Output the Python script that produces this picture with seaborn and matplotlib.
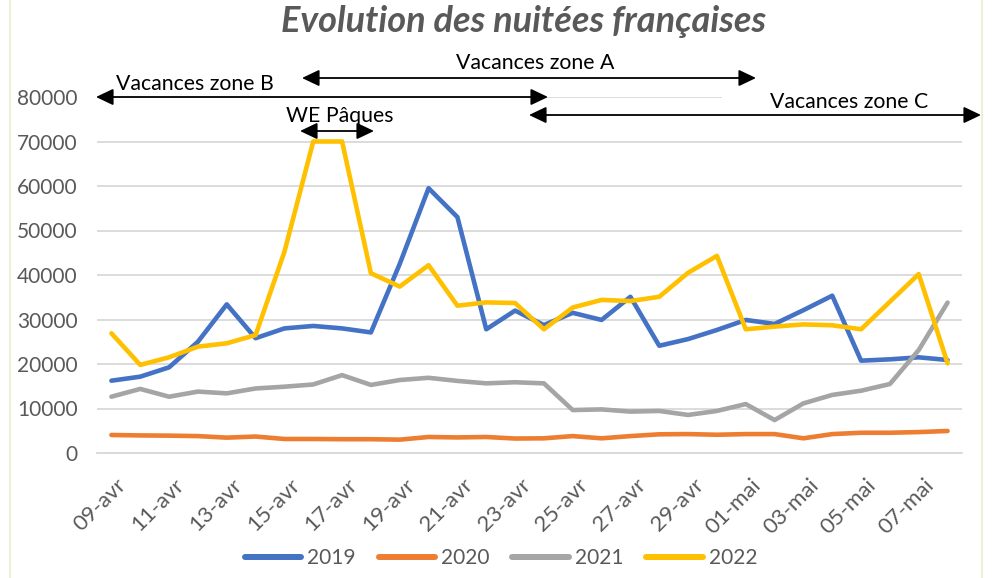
import numpy as np
import pandas as pd
import matplotlib
matplotlib.use('Agg')
import matplotlib.pyplot as plt
import matplotlib.transforms as mtransforms
import seaborn as sns
from matplotlib.patches import FancyArrowPatch, Rectangle
from matplotlib.lines import Line2D

dates = ['09-avr', '10-avr', '11-avr', '12-avr', '13-avr', '14-avr', '15-avr', '16-avr',
         '17-avr', '18-avr', '19-avr', '20-avr', '21-avr', '22-avr', '23-avr', '24-avr',
         '25-avr', '26-avr', '27-avr', '28-avr', '29-avr', '30-avr', '01-mai', '02-mai',
         '03-mai', '04-mai', '05-mai', '06-mai', '07-mai', '08-mai']
v2019 = [16250, 17150, 19250, 25000, 33400, 25800, 28000, 28550, 28000, 27100,
         42500, 59500, 53000, 27800, 32000, 28750, 31500, 29900, 35100, 24100,
         25600, 27650, 29900, 29000, 32100, 35350, 20750, 21050, 21500, 20900]
v2020 = [4050, 3950, 3900, 3800, 3450, 3700, 3150, 3150, 3100, 3100,
         3000, 3600, 3500, 3600, 3250, 3300, 3800, 3300, 3800, 4200,
         4250, 4100, 4250, 4250, 3300, 4250, 4550, 4550, 4700, 4950]
v2021 = [12650, 14400, 12650, 13800, 13400, 14500, 14900, 15400, 17500, 15300,
         16400, 16900, 16200, 15650, 15900, 15650, 9650, 9800, 9300, 9450,
         8550, 9450, 11000, 7400, 11150, 13050, 14000, 15500, 23150, 33800]
v2022 = [26900, 19800, 21500, 23900, 24650, 26500, 45200, 70000, 70000, 40400,
         37400, 42200, 33100, 33850, 33700, 27800, 32700, 34400, 34150, 35100,
         40500, 44300, 27800, 28400, 28900, 28700, 27800, 34000, 40200, 20150]
years = ['2019', '2020', '2021', '2022']
colors = ['#4472C4', '#ED7D31', '#A5A5A5', '#FFC000']
yticks = [0, 10000, 20000, 30000, 40000, 50000, 60000, 70000, 80000]

title = 'Evolution des nuitées françaises'
zones = ['Vacances zone A', 'Vacances zone B', 'Vacances zone C', 'WE Pâques']

sns.set_theme(style='white')
plt.rcParams['font.family'] = ['Lato', 'DejaVu Sans']

W, H = 992, 578
def P(x, y):
    return (x / W, 1 - y / H)

series = [v2019, v2020, v2021, v2022]
df = pd.DataFrame({
    'pos': list(range(len(dates))) * 4,
    'annee': [y for y in years for _ in dates],
    'nuitees': [v for s in series for v in s],
})

fig = plt.figure(figsize=(W / 100, H / 100), dpi=100)
fig.patch.set_facecolor('white')
ax = fig.add_axes([97 / W, 1 - 453 / H, (962 - 97) / W, (453 - 97) / H])

sns.lineplot(data=df, x='pos', y='nuitees', hue='annee', palette=dict(zip(years, colors)),
             linewidth=3.3, ax=ax, sort=False, legend='full')
for l in ax.lines:
    l.set_solid_capstyle('round')
    l.set_solid_joinstyle('round')

grey_txt = '#595959'
grid_c = '#D9D9D9'
ax.set_xlim(-0.5, len(dates) - 0.5)
ax.set_ylim(0, 80000)
ax.set_yticks(yticks)
ax.set_yticklabels([str(v) for v in yticks])
ax.set_xticks(range(0, len(dates), 2))
ax.set_xticklabels(dates[::2], rotation=45, ha='right', rotation_mode='anchor')
ax.set_xticks(np.arange(-0.5, len(dates), 2), minor=True)
ax.tick_params(axis='x', which='major', length=0, pad=16, labelsize=16, labelcolor=grey_txt)
ax.tick_params(axis='x', which='minor', length=6, width=1.3, color=grid_c, direction='out')
ax.tick_params(axis='y', length=0, pad=14, labelsize=15, labelcolor=grey_txt)
shift = mtransforms.ScaledTranslation(5 / 100, 0, fig.dpi_scale_trans)
for lab in ax.get_xticklabels():
    lab.set_transform(lab.get_transform() + shift)
ax.set_xlabel('')
ax.set_ylabel('')
ax.yaxis.grid(True, color=grid_c, linewidth=1.3)
ax.set_axisbelow(True)
for s in ['top', 'right', 'left']:
    ax.spines[s].set_visible(False)
ax.spines['bottom'].set_color(grid_c)
ax.spines['bottom'].set_linewidth(1.3)

sns.move_legend(ax, 'center', bbox_to_anchor=P(501, 558), bbox_transform=fig.transFigure,
                ncol=4, title=None, frameon=False, fontsize=15, handlelength=2.7,
                handletextpad=0.3, columnspacing=1.1)
leg = ax.get_legend()
for h in leg.legend_handles:
    h.set_linewidth(4.3)
    h.set_solid_capstyle('round')
for t in leg.get_texts():
    t.set_color(grey_txt)

fig.text(*P(524, 22), title, ha='center', va='center', fontsize=26, fontweight='bold',
         fontstyle='italic', color=grey_txt)

# white box hiding part of the top gridline (text box of zone C)
fig.add_artist(Rectangle(P(722, 110), (978 - 722) / W, 20 / H, transform=fig.transFigure,
                         facecolor='white', edgecolor='none', zorder=1.5))

arrows = [((302, 78), (756, 78)), ((96, 97), (548, 97)), ((529, 115), (981, 115)), ((300, 131), (374, 131))]
for a, b in arrows:
    fig.add_artist(FancyArrowPatch(P(*a), P(*b), transform=fig.transFigure,
                                   arrowstyle='<|-|>,head_length=10.5,head_width=5',
                                   mutation_scale=1, lw=1.3, color='black',
                                   shrinkA=0, shrinkB=0, zorder=4))
labels_pos = [(535, 63), (195, 84), (849, 102), (340, 116)]
for txt, (x, y) in zip(zones, labels_pos):
    fig.text(*P(x, y), txt, ha='center', va='center', fontsize=15.3, color='black', zorder=5)

for xb in (10, 982):
    fig.add_artist(Line2D([xb / W, xb / W], [0, 1], color='#EFEDDD', lw=1.5,
                          transform=fig.transFigure))

fig.savefig('out.png', dpi=100)
